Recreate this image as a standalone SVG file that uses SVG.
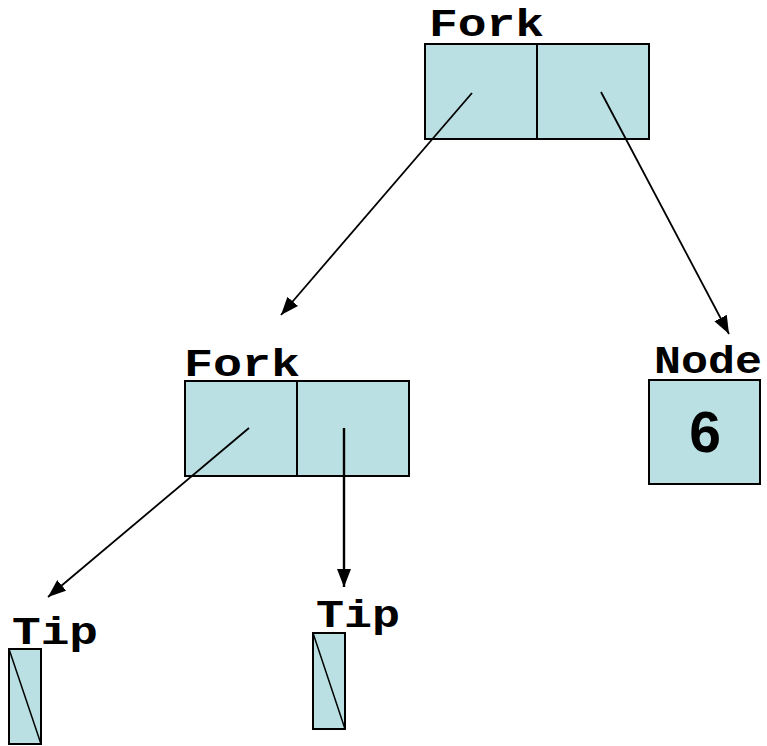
<svg xmlns="http://www.w3.org/2000/svg" width="767" height="746" viewBox="0 0 767 746">
  <style>
    .box { fill: #bae0e3; stroke: #000; stroke-width: 2; }
    .div { stroke: #000; stroke-width: 2; }
    .lbl { font-family: "Liberation Mono", "Courier New", monospace; font-weight: bold; font-size: 39px; fill: #000; }
    .val { font-family: "Liberation Sans", Arial, sans-serif; font-weight: bold; font-size: 57px; fill: #000; }
    .edge { stroke: #000; stroke-width: 1.8; fill: none; marker-end: url(#arrow); }
    .slash { stroke: #000; stroke-width: 1.5; }
  </style>
  <defs>
    <marker id="arrow" viewBox="0 0 18 14" refX="18" refY="7" markerWidth="18" markerHeight="14" markerUnits="userSpaceOnUse" orient="auto">
      <path d="M0,0 L18,7 L0,14 z" fill="#000"/>
    </marker>
  </defs>

  <g id="fork-root">
    <text class="lbl" x="429" y="36" textLength="115" lengthAdjust="spacingAndGlyphs">Fork</text>
    <rect class="box" x="425" y="44" width="224" height="95"/>
    <line class="div" x1="537" y1="44" x2="537" y2="139"/>
  </g>

  <g id="fork-left">
    <text class="lbl" x="184" y="376" textLength="116" lengthAdjust="spacingAndGlyphs">Fork</text>
    <rect class="box" x="185" y="381" width="224" height="95"/>
    <line class="div" x1="297" y1="381" x2="297" y2="476"/>
  </g>

  <g id="node-6">
    <text class="lbl" x="654" y="373" textLength="108" lengthAdjust="spacingAndGlyphs">Node</text>
    <rect class="box" x="649" y="380" width="111" height="104"/>
    <text class="val" x="705" y="452" text-anchor="middle">6</text>
  </g>

  <g id="tip-left">
    <text class="lbl" x="12" y="644" textLength="86" lengthAdjust="spacingAndGlyphs">Tip</text>
    <rect class="box" x="9" y="649" width="32" height="95"/>
    <line class="slash" x1="9" y1="649" x2="41" y2="744"/>
  </g>

  <g id="tip-right">
    <text class="lbl" x="316" y="627" textLength="84" lengthAdjust="spacingAndGlyphs">Tip</text>
    <rect class="box" x="313" y="633" width="32" height="96"/>
    <line class="slash" x1="313" y1="633" x2="345" y2="729"/>
  </g>

  <g id="connectors">
    <line class="edge" x1="472" y1="93" x2="281" y2="315"/>
    <line class="edge" x1="601" y1="92" x2="729" y2="334"/>
    <line class="edge" x1="249" y1="428" x2="48" y2="597"/>
    <line class="edge" x1="344" y1="428" x2="344" y2="587" style="stroke-width:2.4"/>
  </g>
</svg>
